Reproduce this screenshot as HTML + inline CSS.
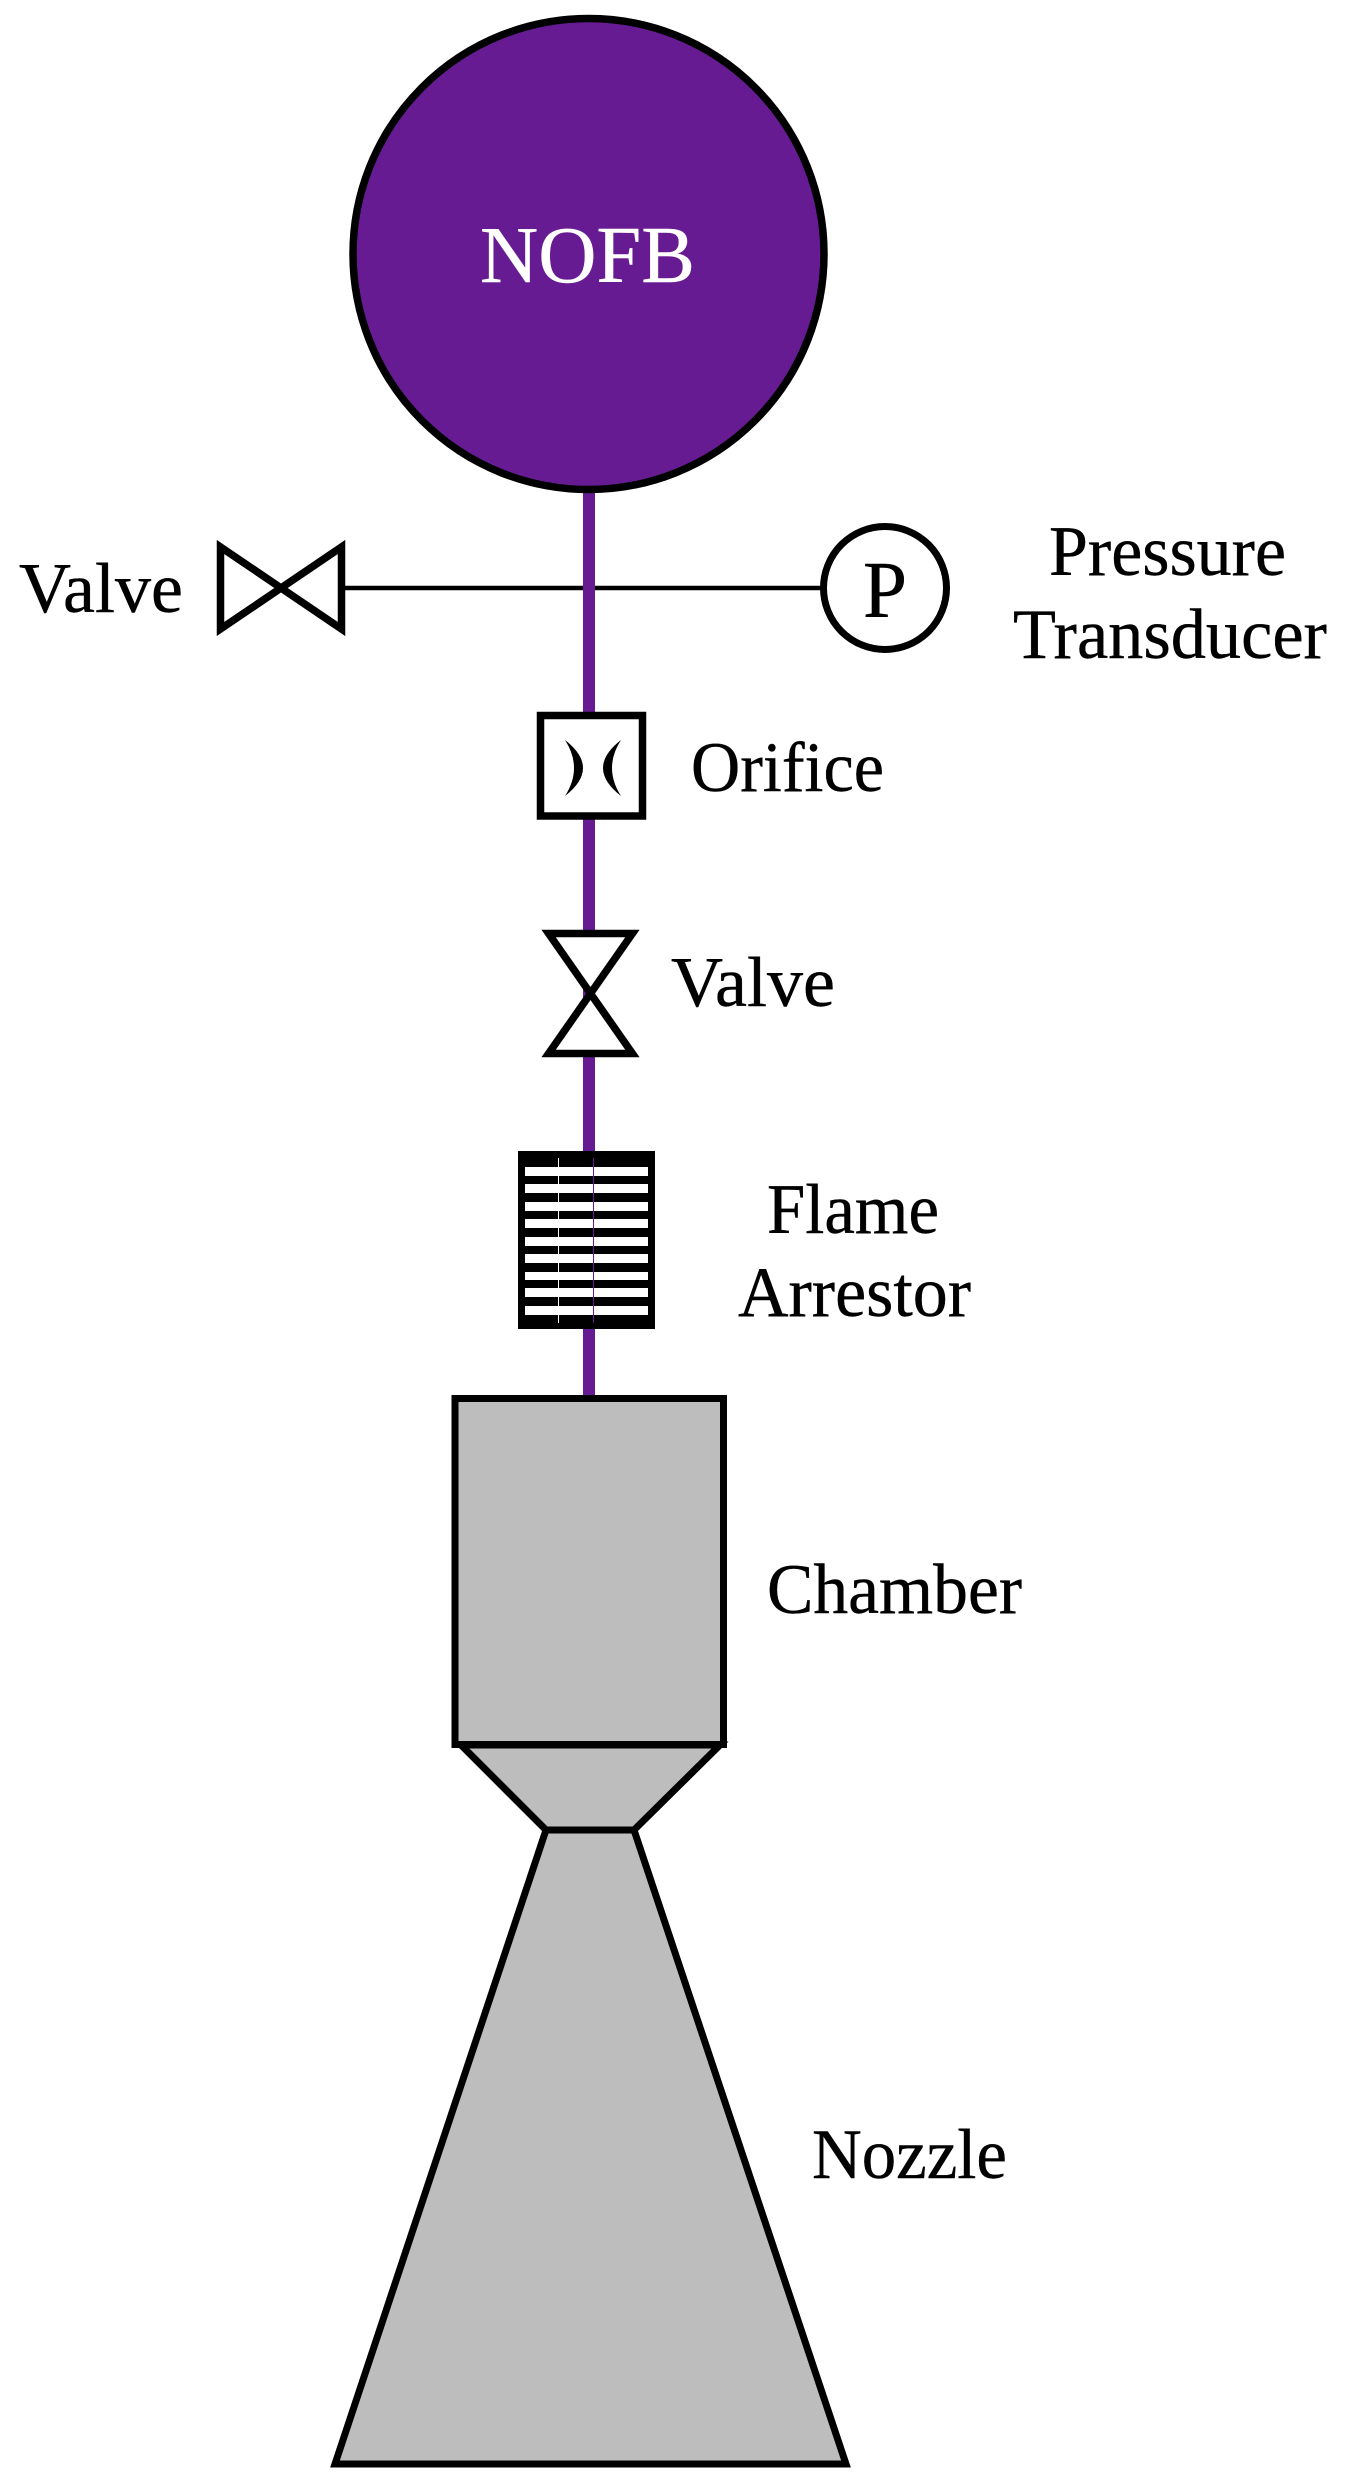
<!DOCTYPE html>
<html><head><meta charset="utf-8"><style>
html,body{margin:0;padding:0;background:#fff}
svg{display:block}
text{font-family:"Liberation Serif","Times New Roman",serif;font-size:71px;fill:#000;stroke:#000;stroke-width:.4px}
</style></head><body>
<svg width="1347" height="2490" viewBox="0 0 1347 2490" xmlns="http://www.w3.org/2000/svg">
<rect width="1347" height="2490" fill="#fff"/>
<!-- sense line -->
<line x1="345" y1="588" x2="822" y2="588" stroke="#000" stroke-width="4.5"/>
<!-- feed pipe -->
<rect x="583" y="490" width="12" height="910" fill="#671b93"/>
<!-- tank -->
<circle cx="588.5" cy="254" r="235.5" fill="#671b93" stroke="#000" stroke-width="7.5"/>
<text x="480" y="282" style="font-size:80px;fill:#fff;stroke:#fff" textLength="215" lengthAdjust="spacingAndGlyphs">NOFB</text>
<!-- side valve -->
<polygon points="220.5,547 281,588 220.5,629" fill="#fff" stroke="#000" stroke-width="7.5" stroke-miterlimit="10"/>
<polygon points="341.5,547 281,588 341.5,629" fill="#fff" stroke="#000" stroke-width="7.5" stroke-miterlimit="10"/>
<text x="19" y="612" textLength="164" lengthAdjust="spacingAndGlyphs">Valve</text>
<!-- pressure transducer -->
<circle cx="885" cy="588" r="61.5" fill="#fff" stroke="#000" stroke-width="7"/>
<text x="863" y="616.5" style="font-size:80px" textLength="44" lengthAdjust="spacingAndGlyphs">P</text>
<text x="1049" y="575" textLength="237" lengthAdjust="spacingAndGlyphs">Pressure</text>
<text x="1013" y="658" textLength="314" lengthAdjust="spacingAndGlyphs">Transducer</text>
<!-- orifice -->
<rect x="540.5" y="715.5" width="102" height="100.5" fill="#fff" stroke="#000" stroke-width="7.5"/>
<path d="M565,740 Q601,768 565,796 Q583,768 565,740Z" fill="#000"/>
<path d="M621,740 Q585,768 621,796 Q603,768 621,740Z" fill="#000"/>
<text x="691" y="791" textLength="193" lengthAdjust="spacingAndGlyphs">Orifice</text>
<!-- inline valve -->
<polygon points="548.6,933.5 632.4,933.5 590.5,993.5" fill="#fff" stroke="#000" stroke-width="7.5" stroke-miterlimit="10"/>
<polygon points="548.6,1053.5 632.4,1053.5 590.5,993.5" fill="#fff" stroke="#000" stroke-width="7.5" stroke-miterlimit="10"/>
<text x="671" y="1006" textLength="164" lengthAdjust="spacingAndGlyphs">Valve</text>
<!-- flame arrestor -->
<rect x="518" y="1151" width="137" height="178" fill="#000"/>
<g fill="#fff">
<rect x="525" y="1167" width="123" height="9"/>
<rect x="525" y="1184" width="123" height="9"/>
<rect x="525" y="1202" width="123" height="9"/>
<rect x="525" y="1219" width="123" height="9"/>
<rect x="525" y="1237" width="123" height="9"/>
<rect x="525" y="1254" width="123" height="9"/>
<rect x="525" y="1272" width="123" height="8"/>
<rect x="525" y="1288" width="123" height="9"/>
<rect x="525" y="1306" width="123" height="9"/>
<rect x="558" y="1158" width="1" height="165"/>
</g>
<rect x="593" y="1158" width="1" height="165" fill="#671b93"/>
<text x="767" y="1233" textLength="172" lengthAdjust="spacingAndGlyphs">Flame</text>
<text x="738" y="1316" textLength="233" lengthAdjust="spacingAndGlyphs">Arrestor</text>
<!-- nozzle -->
<polygon points="546,1830 634,1830 846,2464 335,2464" fill="#bdbdbd" stroke="#000" stroke-width="7" stroke-miterlimit="10"/>
<polygon points="461,1745 720,1745 634,1830 546,1830" fill="#bdbdbd" stroke="#000" stroke-width="7" stroke-miterlimit="10"/>
<!-- chamber -->
<rect x="455" y="1398.5" width="268.5" height="346" fill="#bdbdbd" stroke="#000" stroke-width="7"/>
<text x="767" y="1613" textLength="255" lengthAdjust="spacingAndGlyphs">Chamber</text>
<text x="812" y="2178" textLength="195" lengthAdjust="spacingAndGlyphs">Nozzle</text>
</svg>
</body></html>
